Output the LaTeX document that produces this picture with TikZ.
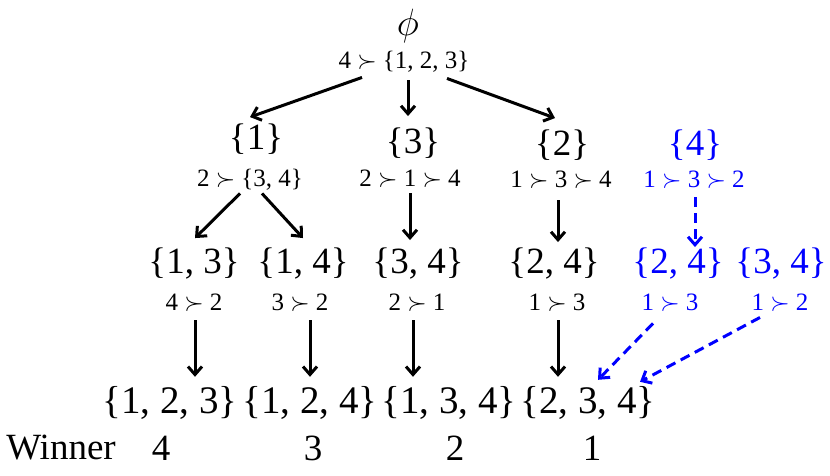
\RequirePackage{fix-cm}
\documentclass[tikz,border=0pt]{standalone}
\usepackage{fontspec}
\setmainfont{Liberation Serif}
\usetikzlibrary{arrows.meta,calc}
\definecolor{myblue}{RGB}{0,0,255}
\newcommand{\pref}{ $\succ$ }
\tikzset{
  setnode/.style={inner sep=0pt, text height=26pt, text depth=7.5pt, font=\fontsize{37}{40}\selectfont},
  bigset/.style={inner sep=0pt, text height=28pt, text depth=8pt, font=\fontsize{39}{44}\selectfont},
  lbl/.style={inner sep=0pt, text height=17.5pt, text depth=5pt, font=\fontsize{25}{28}\selectfont},
  win/.style={inner sep=0pt, font=\fontsize{37}{40}\selectfont},
  hl/.style={text=myblue},
  arr/.style={line width=3pt, -{Straight Barb[length=8pt,width=14pt,line width=3pt]}},
  darr/.style={line width=3pt, myblue, dash pattern=on 10pt off 6pt, -{Straight Barb[length=8pt,width=14pt,line width=3pt]}}
}
\begin{document}
\begin{tikzpicture}[x=1pt,y=-1pt]
\useasboundingbox (0,0) rectangle (830,475);
% row 1
\node[setnode,font=\fontsize{38}{42}\selectfont] (phi) at (408,26) {$\phi$};
\node[lbl] (l0) at (404,62) {4\pref\{1, 2, 3\}};
% row 2
\node[setnode] (s1) at (256,140) {\{1\}};
\node[setnode] (s3) at (413,144) {\{3\}};
\node[setnode] (s2) at (562,146) {\{2\}};
\node[setnode,hl] (s4) at (695,146) {\{4\}};
\node[lbl] (l1) at (250,180) {2\pref\{3, 4\}};
\node[lbl] (l3) at (410,180) {2\pref 1\pref 4};
\node[lbl] (l2) at (561,181) {1\pref 3\pref 4};
\node[lbl,hl] (l4) at (694,181) {1\pref 3\pref 2};
% row 3
\node[setnode] (s13) at (194,264) {\{1, 3\}};
\node[setnode] (s14) at (303,264) {\{1, 4\}};
\node[setnode] (s34) at (418,264) {\{3, 4\}};
\node[setnode] (s24) at (554,264) {\{2, 4\}};
\node[setnode,hl] (b24) at (678,264) {\{2, 4\}};
\node[setnode,hl] (b34) at (781,264) {\{3, 4\}};
\node[lbl] (m13) at (194,304) {4\pref 2};
\node[lbl] (m14) at (300,304) {3\pref 2};
\node[lbl] (m34) at (417,304) {2\pref 1};
\node[lbl] (m24) at (557,304) {1\pref 3};
\node[lbl,hl] (n24) at (670,304) {1\pref 3};
\node[lbl,hl] (n34) at (780,304) {1\pref 2};
% row 4
\node[bigset] (t123) at (170,403) {\{1, 2, 3\}};
\node[bigset] (t124) at (310,403) {\{1, 2, 4\}};
\node[bigset] (t134) at (449,403) {\{1, 3, 4\}};
\node[bigset] (t234) at (588,403) {\{2, 3, 4\}};
% winner row
\node[win] (wl) at (61,448) {Winner};
\node[win] (w1) at (161,448) {4};
\node[win] (w2) at (313,448) {3};
\node[win] (w3) at (455,448) {2};
\node[win] (w4) at (592,448) {1};
% connectors
\draw[arr] ($(l0.south)+(-42,4)$) -- ($(s1.north)+(-6,-6)$);
\draw[arr] ($(l0.south)+(4,7)$) -- ($(s3.north)+(-5,-11)$);
\draw[arr] ($(l0.south)+(43,5)$) -- ($(s2.north)+(-7,-11)$);
\draw[arr] ($(l1.south)+(-10,2)$) -- ($(s13.north)+(1,-9)$);
\draw[arr] ($(l1.south)+(12,2)$) -- ($(s14.north)+(0,-9)$);
\draw[arr] ($(l3.south)+(0,2)$) -- ($(l3.south |- s34.north)+(0,-7)$);
\draw[arr] ($(l2.south)+(-3,8)$) -- ($(s24.north)+(4,-5)$);
\draw[darr] ($(l4.south)+(1,5)$) -- ($(b24.north)+(17,0)$);
\draw[arr] ($(m13.south)+(1,5)$) -- ($(t123.north)+(25,-8)$);
\draw[arr] ($(m14.south)+(10,5)$) -- ($(t124.north)+(0,-8)$);
\draw[arr] ($(m34.south)+(-4,5)$) -- ($(t134.north)+(-36,-8)$);
\draw[arr] ($(m24.south)+(1,5)$) -- ($(t234.north)+(-30,-8)$);
\draw[darr] ($(n24.south)+(-17,8)$) -- ($(t234.north)+(10,-5)$);
\draw[darr] ($(n34.south)+(-20,2)$) -- ($(t234.north)+(52,-3)$);
\end{tikzpicture}
\end{document}
